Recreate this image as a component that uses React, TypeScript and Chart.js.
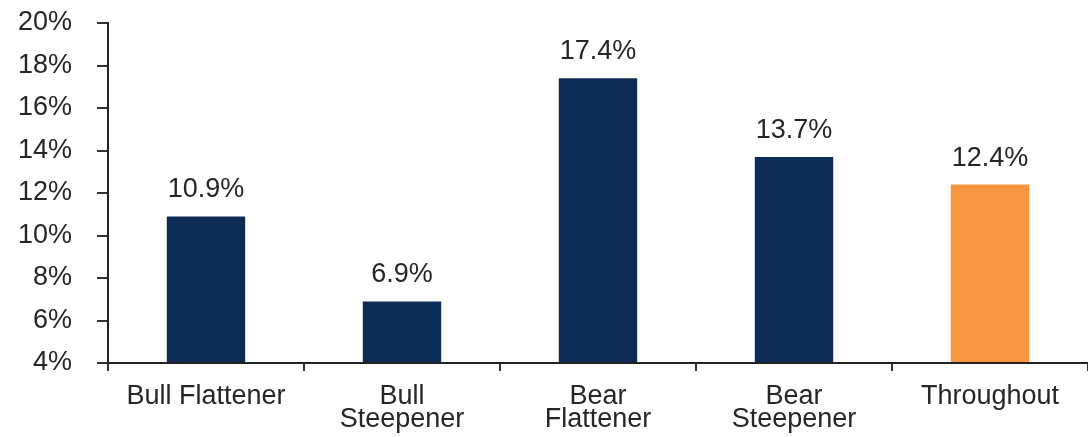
import React, { useEffect, useRef } from "react";
import { Chart, registerables } from "chart.js";

Chart.register(...registerables);

const categories: (string | string[])[] = [
  "Bull Flattener",
  ["Bull", "Steepener"],
  ["Bear", "Flattener"],
  ["Bear", "Steepener"],
  "Throughout",
];
const values = [10.9, 6.9, 17.4, 13.7, 12.4];
const barColors = ["#0c2b55", "#0c2b55", "#0c2b55", "#0c2b55", "#f7963f"];
const yMin = 4;
const yMax = 20;
const yStep = 2;

const FONT = "'Liberation Sans', Arial, sans-serif";
const TEXT = "#262626";
const FS = 27;

const valueLabels = {
  id: "valueLabels",
  afterDatasetsDraw(chart: any) {
    const ctx = chart.ctx;
    const meta = chart.getDatasetMeta(0);
    ctx.save();
    ctx.font = `${FS}px ${FONT}`;
    ctx.fillStyle = TEXT;
    ctx.textAlign = "center";
    ctx.textBaseline = "alphabetic";
    meta.data.forEach((bar: any, i: number) => {
      ctx.fillText(values[i].toFixed(1) + "%", bar.x, bar.y - 19);
    });
    ctx.restore();
  },
};

export default function App() {
  const ref = useRef<HTMLCanvasElement | null>(null);
  useEffect(() => {
    document.body.style.margin = "0";
    if (!ref.current) return;
    const chart = new Chart(ref.current, {
      type: "bar",
      data: {
        labels: categories,
        datasets: [
          {
            data: values,
            backgroundColor: barColors,
            barPercentage: 0.8,
            categoryPercentage: 0.5,
            base: yMin,
          },
        ],
      },
      options: {
        animation: false,
        responsive: true,
        maintainAspectRatio: false,
        layout: { padding: { top: 23, right: 0, left: 0, bottom: 0 } },
        plugins: { legend: { display: false }, tooltip: { enabled: false } },
        scales: {
          x: {
            offset: true,
            grid: {
              display: true,
              offset: true,
              drawOnChartArea: false,
              drawTicks: true,
              tickLength: 8,
              color: "#333",
              lineWidth: 2,
            },
            border: { display: true, color: "#222", width: 2 },
            ticks: {
              color: TEXT,
              font: { family: FONT, size: FS, lineHeight: 0.85 },
              padding: 14,
              maxRotation: 0,
              autoSkip: false,
            },
            afterFit: (s: any) => {
              s.height = 74;
              s.paddingLeft = 0;
              s.paddingRight = 0;
            },
          },
          y: {
            min: yMin,
            max: yMax,
            grid: {
              display: true,
              drawOnChartArea: false,
              drawTicks: true,
              tickLength: 11,
              color: "#333",
              lineWidth: 2,
            },
            border: { display: true, color: "#222", width: 2 },
            ticks: {
              stepSize: yStep,
              color: TEXT,
              font: { family: FONT, size: FS },
              padding: 25,
              callback: (v: any) => v + "%",
            },
            afterFit: (s: any) => {
              s.width = 108;
              s.paddingTop = 0;
              s.paddingBottom = 0;
            },
          },
        },
      },
      plugins: [valueLabels],
    });
    return () => chart.destroy();
  }, []);
  return (
    <div style={{ width: 1088, height: 437, position: "relative" }}>
      <canvas ref={ref} />
    </div>
  );
}
